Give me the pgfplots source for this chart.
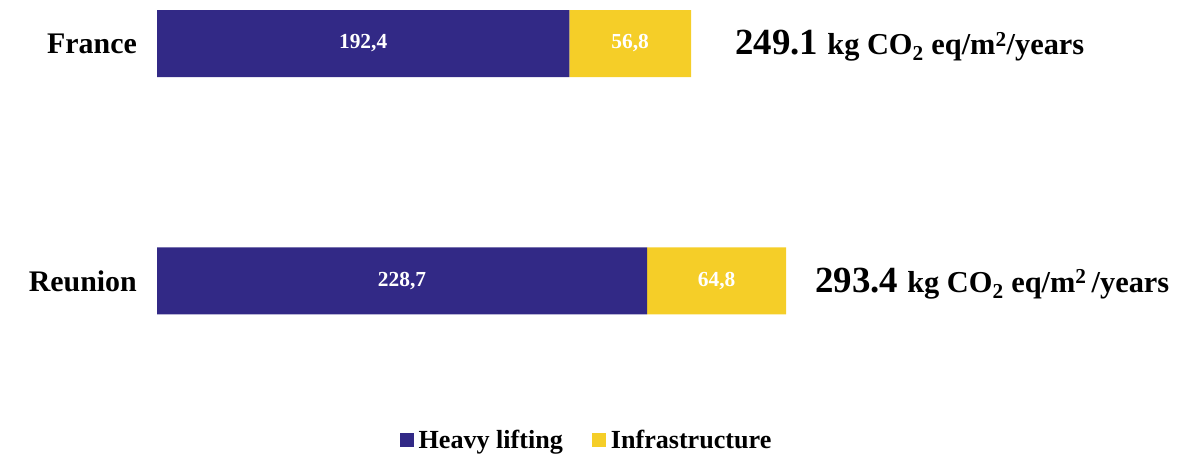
\documentclass[border=0pt]{standalone}
\usepackage{fontspec}
\setmainfont{Liberation Serif}
\usepackage{pgfplots}
\pgfplotsset{compat=1.18}
\definecolor{heavy}{RGB}{50,41,134}
\definecolor{infra}{RGB}{245,206,40}
\pgfplotsset{frame/.style={
 at={(157bp,0bp)}, anchor=south west,
 scale only axis, width=1027bp, height=458bp,
 xmin=0, xmax=479.2, ymin=-0.7453, ymax=1.1832, clip=false}}
\begin{document}
\begin{tikzpicture}
\useasboundingbox (0,0) rectangle (1184bp,458bp);
\begin{axis}[frame,
 xbar stacked, bar width=67bp,
 axis line style={draw=none}, major tick length=0pt,
 xtick=\empty, ytick={0,1}, yticklabels={Reunion,France},
 yticklabel style={font=\fontsize{30}{36}\selectfont\bfseries, inner sep=0pt, xshift=-20bp},
 legend style={at={(axis description cs:0.4182,0.0393)}, anchor=center, draw=none, fill=none,
   legend columns=2, font=\fontsize{26.2}{30}\selectfont\bfseries,
   /tikz/every even column/.append style={column sep=27bp},
   /tikz/every odd column/.append style={column sep=3bp}},
 legend image code/.code={\fill[#1] (0bp,-7bp) rectangle (14bp,7bp);},
]
\addplot[fill=heavy, draw=none] coordinates {(192.4,1) (228.7,0)};
\addplot[fill=infra, draw=none] coordinates {(56.8,1) (64.8,0)};
\legend{Heavy lifting, Infrastructure}
\node[anchor=base west, inner sep=0pt] at (axis cs:269.7,0.9516) {\bfseries\fontsize{37}{40}\selectfont 249.1 \fontsize{30.5}{34}\selectfont kg CO\textsubscript{2} eq/m\textsuperscript{2}/years};
\node[anchor=base west, inner sep=0pt] at (axis cs:307.0,-0.0484) {\bfseries\fontsize{37}{40}\selectfont 293.4 \fontsize{30.5}{34}\selectfont kg CO\textsubscript{2} eq/m\textsuperscript{2}\,/years};
\end{axis}
\begin{axis}[frame, hide axis]
\addplot[draw=none, mark=none,
  nodes near coords, point meta=explicit symbolic,
  every node near coord/.append style={anchor=center, text=white, inner sep=0pt,
    font=\fontsize{21.5}{24}\selectfont\bfseries}]
  coordinates {(96.2,1) [192,4] (220.8,1) [56,8] (114.35,0) [228,7] (261.1,0) [64,8]};
\end{axis}
\end{tikzpicture}
\end{document}
